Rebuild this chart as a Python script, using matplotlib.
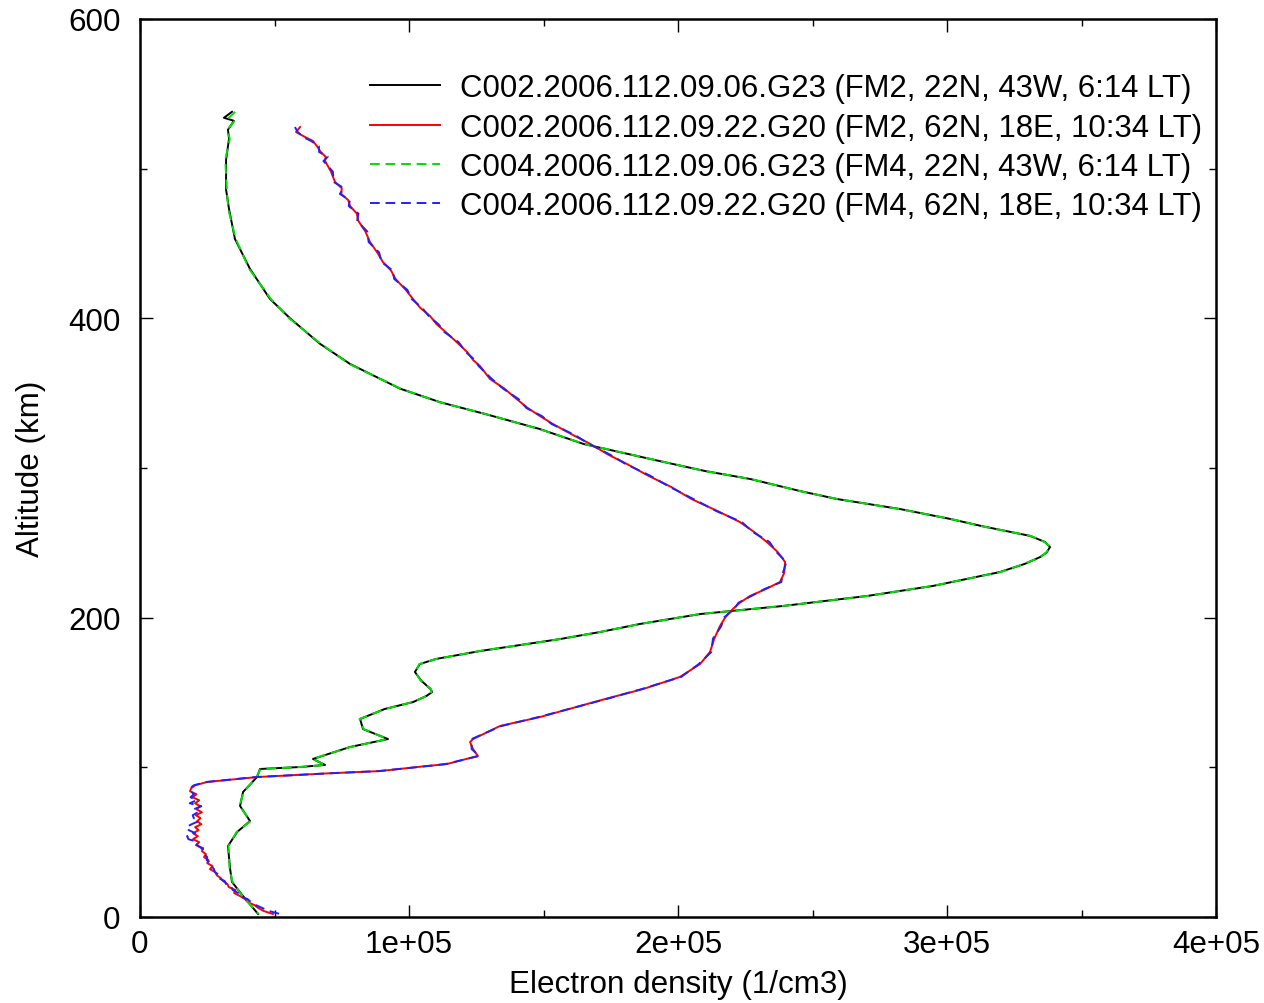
# electron density profiles, two COSMIC receivers over the same occultations
import numpy as np
import matplotlib.pyplot as plt

plt.rcParams['font.family'] = ['Liberation Sans', 'DejaVu Sans']
FS = 22.6

labels = ["C002.2006.112.09.06.G23 (FM2, 22N, 43W, 6:14 LT)",
          "C002.2006.112.09.22.G20 (FM2, 62N, 18E, 10:34 LT)",
          "C004.2006.112.09.06.G23 (FM4, 22N, 43W, 6:14 LT)",
          "C004.2006.112.09.22.G20 (FM4, 62N, 18E, 10:34 LT)"]

# profile at 22N (6:14 LT)
alt_a = [538, 534, 532, 526, 520, 506, 486, 473, 453, 433, 413, 400, 383, 369.5,
         353, 344, 336, 326, 316, 304.7, 298, 292.6, 284.6, 279.3, 272.6, 266, 261,
         254.6, 250.5, 247.2, 243.5, 240.5, 236, 230.5, 221.2, 214.5, 207.8, 204.5,
         202.4, 195.8, 190.4, 185.7, 177.7, 172.4, 169, 163.7, 158, 152.3, 150.3,
         147.7, 143.6, 139, 132.3, 125.6, 118.9, 113.6, 105.6, 101.6, 100.2, 98.9,
         93.5, 83.5, 74.2, 64.1, 56.8, 47.4, 32.1, 23.4, 14, 2]
ne_a = [34200, 31200, 34900, 32700, 33100, 32000, 32000, 33100, 35300, 40900,
        48300, 55800, 66900, 78100, 96700, 111500, 128500, 148700, 165000, 193000,
        210000, 227000, 245400, 259000, 282500, 301100, 313400, 331000, 336500,
        338300, 337000, 334600, 329000, 319700, 294800, 270300, 239000, 220000,
        208200, 185900, 171000, 156100, 126400, 110000, 104000, 102200, 104500,
        108000, 108600, 106500, 101500, 91000, 81800, 82900, 92200, 78100, 64300,
        68800, 59500, 44600, 43500, 38300, 37200, 40900, 36100, 32700, 33500,
        34200, 38300, 43900]
ne_a4 = [35400, 33000, 35200, 32400, 33400, 31700, 32300, 32800, 35600, 40600,
         48600, 55500, 67200, 77800, 96900, 111300, 128700, 148500, 165200, 193200,
         209800, 227200, 245200, 259200, 282300, 301300, 313200, 331200, 336300,
         338500, 336800, 334800, 328800, 319900, 294600, 270500, 238800, 220200,
         208000, 186100, 170800, 156300, 126200, 110200, 103800, 102400, 104300,
         108200, 108400, 106700, 101300, 91200, 81600, 83100, 92000, 78300, 64100,
         69000, 59300, 44800, 43300, 38500, 37000, 41100, 35900, 32900, 33300,
         34400, 38100, 44100]

# profile at 62N (10:34 LT)
alt_b = [527.8, 524.5, 521, 518.5, 515, 511.1, 508, 505.1, 498, 491.1, 487, 483.1,
         479, 475, 470, 465, 458, 451, 444, 437.6, 432, 426.3, 419, 412.9, 407,
         401.6, 396, 390.9, 384, 377.5, 372, 368.1, 359.5, 353, 346.1, 340, 334.7,
         329.4, 322, 316, 309, 302.7, 295, 287.3, 279.3, 271, 263.9, 257, 250.6,
         244, 237.2, 230, 223.8, 219, 214.5, 210, 205.8, 200, 194.4, 186, 177.1,
         169, 160.4, 152.3, 145.7, 133.6, 127.6, 118.9, 116.9, 112.2, 107.6, 102.2,
         100.2, 97.5, 96, 93.5, 90.2, 88, 86, 84, 82, 80, 78, 76, 74, 72, 70, 68,
         66, 64, 62, 60, 58, 56, 54, 52, 50, 48, 46, 44, 42, 40, 38, 36, 34, 32,
         30, 28, 26, 24, 22, 20, 18, 16, 14, 12, 10, 8, 6, 4, 2]
ne_b = [59500, 58000, 61500, 64300, 65800, 67200, 69000, 68800, 71000, 72500,
        75000, 74800, 77400, 78100, 80600, 81200, 83800, 85500, 88200, 90300,
        93300, 95000, 98800, 101500, 104200, 107800, 110300, 113600, 117800,
        121600, 123900, 126400, 130100, 135500, 140000, 144200, 148700, 153500,
        161000, 167500, 174000, 181000, 188800, 197500, 205000, 215000, 223000,
        228500, 233000, 237000, 239800, 239500, 237900, 232500, 226800, 223000,
        220400, 217500, 215600, 213500, 211900, 208200, 200700, 187000, 173000,
        148700, 133800, 123800, 122700, 123800, 125600, 114100, 103000, 89200,
        70000, 43500, 24900, 20500, 19000, 18600, 21000, 19500, 22000, 20500,
        22300, 21000, 23000, 20800, 22500, 21200, 22800, 20500, 21800, 19700,
        21500, 19700, 22000, 20800, 23500, 23000, 24500, 23800, 25500, 25000,
        27000, 26000, 28000, 28500, 30000, 30900, 32500, 33000, 35500, 35000,
        37200, 39000, 40000, 42500, 44000, 46000, 49400]
ne_b4 = [57600, 58600, 60800, 63600, 66500, 66600, 69800, 68200, 71700, 72000,
         75800, 74300, 78000, 77600, 81200, 80700, 84500, 85000, 88900, 89800,
         93900, 94500, 99400, 101000, 104900, 107300, 111000, 113100, 118500,
         121100, 124600, 125900, 130800, 135000, 140700, 143700, 149400, 153000,
         161700, 167000, 174700, 180500, 189500, 197000, 205700, 214500, 223700,
         228000, 234000, 236500, 240300, 239000, 238400, 232000, 227300, 222500,
         220900, 217000, 216100, 213000, 212400, 207700, 201200, 186500, 173500,
         148200, 134300, 123300, 123200, 123300, 126100, 113600, 103500, 88700,
         70500, 43000, 24600, 20000, 18600, 19000, 20000, 18800, 21000, 18500,
         22800, 20000, 21500, 19600, 20000, 21800, 19200, 17200, 18200, 20500,
         17500, 18000, 21500, 21200, 22800, 24000, 23800, 25000, 24800, 26200,
         26500, 27500, 27800, 29500, 29200, 31500, 32000, 34000, 34500, 36500,
         36800, 40000, 41200, 43000, 45500, 48000, 52000]

fig = plt.figure(figsize=(12.64, 10.04), dpi=100)
ax = fig.add_axes([140/1264, 86/1004, 1076/1264, 898/1004])

ax.plot(ne_a, alt_a, color='black', lw=1.4, label=labels[0])
ax.plot(ne_b, alt_b, color='#ff0000', lw=1.4, label=labels[1])
ax.plot(ne_a4, alt_a, color='#00e000', lw=1.4, dashes=(5, 3), label=labels[2])
ax.plot(ne_b4, alt_b, color='#2020ff', lw=1.4, dashes=(5, 3), label=labels[3])

ax.set_xlim(0, 4e5)
ax.set_ylim(0, 600)
ax.set_xticks([0, 1e5, 2e5, 3e5, 4e5])
ax.set_xticklabels(['0', '1e+05', '2e+05', '3e+05', '4e+05'])
ax.set_yticks([0, 200, 400, 600])
ax.set_xticks(np.arange(0, 4.01e5, 5e4), minor=True)
ax.set_yticks(np.arange(0, 601, 100), minor=True)
ax.tick_params(which='both', direction='in', top=True, right=True, labelsize=FS)
ax.tick_params(which='major', length=9, width=1)
ax.tick_params(which='minor', length=5, width=1)
ax.tick_params(axis='y', pad=14)
ax.tick_params(axis='x', pad=9)
for s in ax.spines.values():
    s.set_linewidth(1.8)

ax.set_xlabel('Electron density (1/cm3)', fontsize=FS, va='top')
ax.xaxis.set_label_coords(0.5, -(970 - 918) / 898)
ax.set_ylabel('Altitude (km)', fontsize=FS, va='center')
ax.yaxis.set_label_coords(-(140 - 31) / 1076, 0.5)

ax.legend(loc='upper right', bbox_to_anchor=(0.9986, 0.9535), frameon=False,
          fontsize=22.4, handlelength=2.26, handletextpad=0.65, labelspacing=0.3,
          borderaxespad=0)

fig.savefig('out.png', dpi=100)
